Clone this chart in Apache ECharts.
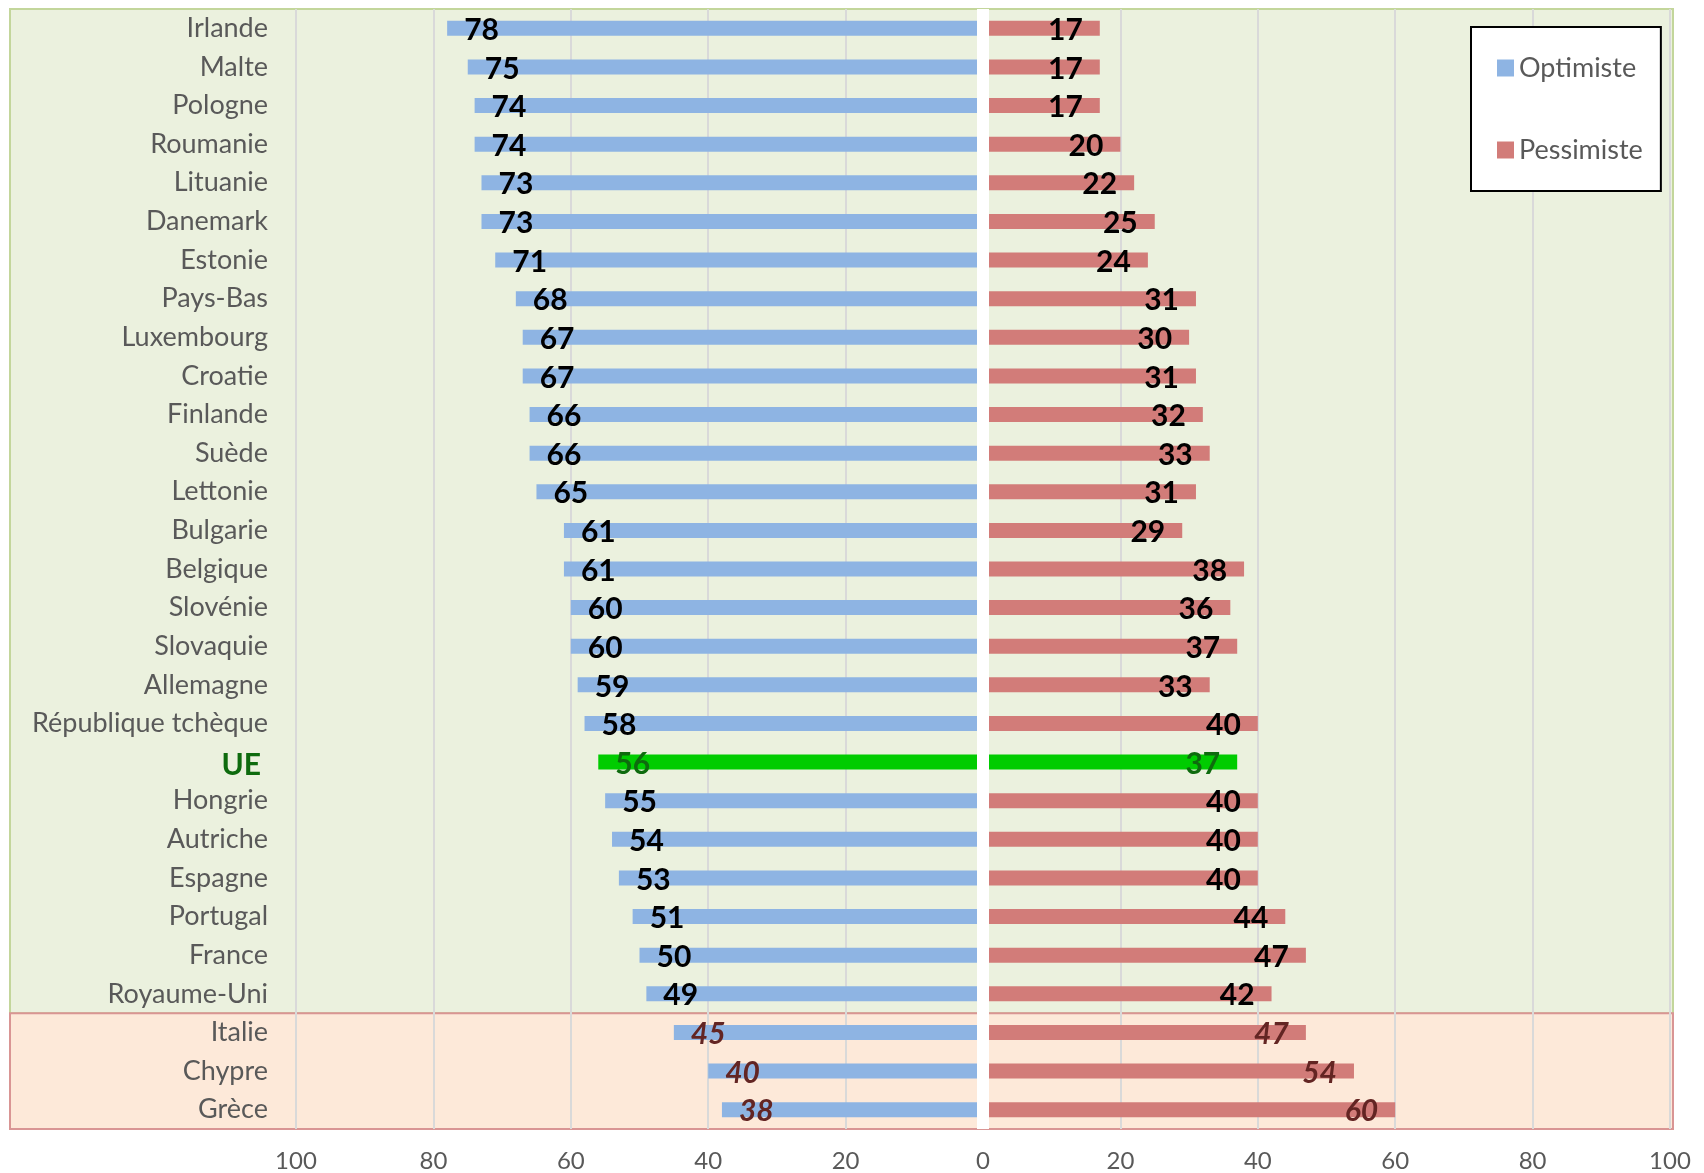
<!DOCTYPE html>
<html>
<head>
<meta charset="utf-8">
<script src="https://cdn.jsdelivr.net/npm/echarts@6/dist/echarts.min.js"></script>
<style>
html,body{margin:0;padding:0;background:#fff;}
#c{width:1704px;height:1173px;}
</style>
</head>
<body>
<div id="c"></div>
<script>
const countries = ["Irlande","Malte","Pologne","Roumanie","Lituanie","Danemark","Estonie","Pays-Bas","Luxembourg","Croatie","Finlande","Suède","Lettonie","Bulgarie","Belgique","Slovénie","Slovaquie","Allemagne","République tchèque","UE","Hongrie","Autriche","Espagne","Portugal","France","Royaume-Uni","Italie","Chypre","Grèce"];
const optimiste = [78,75,74,74,73,73,71,68,67,67,66,66,65,61,61,60,60,59,58,56,55,54,53,51,50,49,45,40,38];
const pessimiste = [17,17,17,20,22,25,24,31,30,31,32,33,31,29,38,36,37,33,40,37,40,40,40,44,47,42,47,54,60];
const xTicks = [-100,-80,-60,-40,-20,0,20,40,60,80,100];
const highlight = "UE";
const badGroup = ["Italie","Chypre","Grèce"];

(function(){
const FONT = "Lato, 'Open Sans', sans-serif";
const BLUE = "#8EB4E3", RED = "#D27C79", GREEN = "#00CC00";
const UE_TXT = "#0E6B0E", BAD_TXT = "#632523";

function labelFor(name){
  if (name === highlight) return {color: UE_TXT};
  if (badGroup.indexOf(name) >= 0) return {color: BAD_TXT, fontStyle: 'italic'};
  return {};
}
function buildData(vals, sign){
  return vals.map((v,i)=>{
    const name = countries[i];
    const d = {value: sign*v, label: labelFor(name)};
    if (name === highlight) d.itemStyle = {color: GREEN};
    return d;
  });
}

const chart = echarts.init(document.getElementById('c'), null, {renderer:'canvas'});
const baseLabel = {show:true, fontFamily:FONT, fontSize:30, fontWeight:'bold', color:'#000', distance:17, offset:[0,2],
  formatter: p => Math.abs(p.value)};

chart.setOption({
  animation:false,
  backgroundColor:'#fff',
  grid:{left:296, right:34, top:9, bottom:43, containLabel:false},
  legend:{
    orient:'vertical', left:1471, top:27,
    padding:[27,18,27,26], itemGap:54, itemWidth:17, itemHeight:17,
    icon:'rect', backgroundColor:'#fff', borderColor:'#000', borderWidth:2,
    textStyle:{fontFamily:FONT, fontSize:27, lineHeight:28, color:'#595959'},
    data:['Optimiste','Pessimiste']
  },
  xAxis:{
    type:'value', min:xTicks[0], max:xTicks[xTicks.length-1], interval:xTicks[1]-xTicks[0], z:1,
    axisLine:{show:false}, axisTick:{show:false},
    splitLine:{show:true, lineStyle:{color:'#D9D9D9', width:2}},
    axisLabel:{fontFamily:FONT, fontSize:24, color:'#595959', margin:20,
      formatter: v => Math.abs(v)}
  },
  yAxis:{
    type:'category', data:countries, inverse:true, z:1,
    axisLine:{show:false, onZero:false}, axisTick:{show:false},
    axisLabel:{
      margin:28, fontFamily:FONT, fontSize:27, color:'#595959',
      formatter: v => v === highlight ? '{ue|'+v+'}' : v,
      rich:{ue:{fontFamily:FONT, fontSize:30, fontWeight:'bold', color:UE_TXT, padding:[6,7,0,0]}}
    }
  },
  series:[
    {name:'Optimiste', type:'bar', barWidth:15, barGap:'-100%', z:2,
      itemStyle:{color:BLUE},
      label:Object.assign({}, baseLabel, {position:'insideLeft'}),
      data:buildData(optimiste,-1)},
    {name:'Pessimiste', type:'bar', barWidth:15, barGap:'-100%', z:2,
      itemStyle:{color:RED},
      label:Object.assign({}, baseLabel, {position:'insideRight'}),
      data:buildData(pessimiste,1)},
    {name:'strip', type:'line', data:[], z:6, silent:true,
      markLine:{silent:true, symbol:['none','none'], label:{show:false},
        lineStyle:{color:'#fff', width:12, type:'solid'},
        data:[{xAxis:0}]}}
  ]
});

const py = n => chart.convertToPixel({yAxisIndex:0}, n);
const band = py(countries[1]) - py(countries[0]);
const yTop = py(countries[0]) - band/2;
const yBottom = py(countries[countries.length-1]) + band/2;
const ySplit = (py(badGroup[0]) + py(countries[countries.indexOf(badGroup[0])-1]))/2;
const xRight = chart.convertToPixel({xAxisIndex:0}, 100) + 3;
const xLeft = 10;
chart.setOption({
  graphic:[
    {type:'rect', z:0, silent:true, shape:{x:xLeft, y:yTop, width:xRight-xLeft, height:ySplit-yTop},
      style:{fill:'#EBF1DE', stroke:'#C3D69B', lineWidth:2}},
    {type:'rect', z:0, silent:true, shape:{x:xLeft, y:ySplit, width:xRight-xLeft, height:yBottom-ySplit},
      style:{fill:'#FDE9D9', stroke:'#D99594', lineWidth:2}}
  ]
});
})();
</script>
</body>
</html>
